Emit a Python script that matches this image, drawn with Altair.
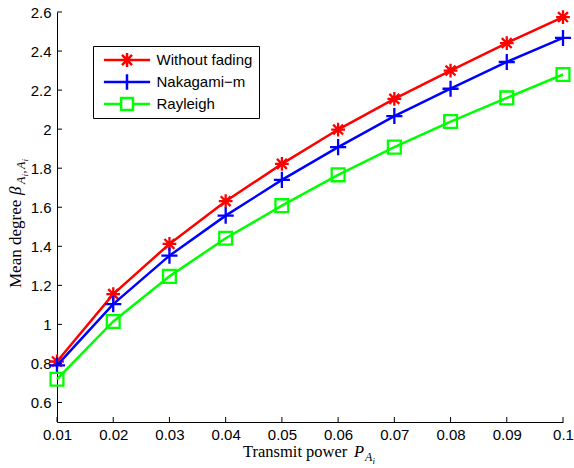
import altair as alt
import pandas as pd

# ---- data ----
x_vals = [0.01, 0.02, 0.03, 0.04, 0.05, 0.06, 0.07, 0.08, 0.09, 0.10]
without_fading = [0.81, 1.155, 1.412, 1.631, 1.822, 1.998, 2.155, 2.300, 2.441, 2.574]
nakagami_m = [0.790, 1.104, 1.352, 1.557, 1.740, 1.908, 2.067, 2.207, 2.344, 2.467]
rayleigh = [0.719, 1.015, 1.246, 1.441, 1.608, 1.766, 1.908, 2.039, 2.160, 2.280]

series_names = ["Without fading", "Nakagami\u2212m", "Rayleigh"]
series_values = [without_fading, nakagami_m, rayleigh]
series_colors = ["#ff0000", "#0000ff", "#00ff00"]

x_ticks = [0.01, 0.02, 0.03, 0.04, 0.05, 0.06, 0.07, 0.08, 0.09, 0.10]
y_ticks = [0.6, 0.8, 1.0, 1.2, 1.4, 1.6, 1.8, 2.0, 2.2, 2.4, 2.6]

# ---- marker shapes (styles) ----
star_path = "M0,-1V1M-1,0H1M-0.72,-0.72L0.72,0.72M-0.72,0.72L0.72,-0.72"
plus_path = "M0,-1V1M-1,0H1"
square_path = "M-1,-1H1V1H-1Z"
marker_paths = [star_path, plus_path, square_path]
marker_sizes = [190, 260, 165]

L = 3.3
legend_paths = [
    f"M-{L},0H{L}M0,-1V1M-1,0H1M-0.72,-0.72L0.72,0.72M-0.72,0.72L0.72,-0.72",
    f"M-{L},0H{L}M0,-1.1V1.1M-1.1,0H1.1",
    f"M-{L},0H-0.85M0.85,0H{L}M-0.85,-0.85H0.85V0.85H-0.85Z",
]

rows = []
for name, vals in zip(series_names, series_values):
    for xv, yv in zip(x_vals, vals):
        rows.append({"series": name, "x": xv, "y": yv})
df = pd.DataFrame(rows)

W, H = 506, 410

x_scale = alt.Scale(domain=[0.01, 0.1], nice=False, zero=False)
y_scale = alt.Scale(domain=[0.5, 2.6], nice=False, zero=False)

x_axis = alt.Axis(values=x_ticks, format=".2~f", title=None, grid=False, ticks=False,
                  tickSize=0, labelPadding=5, labelFont="Liberation Sans", labelFontSize=15,
                  labelColor="black", domainColor="black", domainWidth=1, labelFlush=False)
y_axis = alt.Axis(values=y_ticks, format="~g", title=None, grid=False, ticks=False,
                  tickSize=0, labelPadding=6, labelFont="Liberation Sans", labelFontSize=15,
                  labelColor="black", domainColor="black", domainWidth=1, labelFlush=False)


def X(f):
    return alt.X(f, type="quantitative", scale=x_scale, axis=x_axis)


def Y(f):
    return alt.Y(f, type="quantitative", scale=y_scale, axis=y_axis)


base = alt.Chart(df)

series_layers = []
for name, color, path, sz in zip(series_names, series_colors, marker_paths, marker_sizes):
    sub = base.transform_filter(alt.datum.series == name)
    series_layers.append(
        sub.mark_line(strokeWidth=2.5, color=color, clip=False).encode(x=X("x"), y=Y("y"))
    )
    series_layers.append(
        sub.mark_point(shape=path, filled=False, color=color, size=sz, strokeWidth=2.3,
                       opacity=1, clip=False).encode(x=X("x"), y=Y("y"))
    )

legend = alt.Legend(
    title=None, orient="none", legendX=36, legendY=34, direction="vertical",
    strokeColor="black", fillColor="white", padding=6,
    labelFont="Liberation Sans", labelFontSize=15, labelColor="black",
    symbolSize=196, symbolStrokeWidth=2.5, symbolOffset=19.5, labelOffset=21,
    symbolOpacity=1, rowPadding=6, clipHeight=16, labelLimit=300,
)

# invisible layer that only carries the legend
legend_layer = base.mark_point(filled=False, strokeWidth=2.5, opacity=0).encode(
    x=X("x"), y=Y("y"),
    color=alt.Color("series:N", scale=alt.Scale(domain=series_names, range=series_colors),
                    legend=legend),
    shape=alt.Shape("series:N", scale=alt.Scale(domain=series_names, range=legend_paths),
                    legend=legend),
)

# inward tick marks, positioned by the shared scales
y_tick_layer = alt.Chart(pd.DataFrame({"v": y_ticks})).mark_rule(color="black", strokeWidth=1).encode(
    y=Y("v"), x=alt.value(0), x2=alt.value(5))
x_tick_layer = alt.Chart(pd.DataFrame({"v": x_ticks})).mark_rule(color="black", strokeWidth=1).encode(
    x=X("v"), y=alt.value(H), y2=alt.value(H - 5))

one = pd.DataFrame({"k": [0]})


def txt(s, x, y, size, style="normal", angle=0):
    kw = dict(text=s, font="Liberation Serif", fontSize=size, fontStyle=style,
              align="left", baseline="alphabetic", color="black")
    if angle:
        kw["angle"] = angle
    return alt.Chart(one).mark_text(**kw).encode(x=alt.value(x), y=alt.value(y))


titles = [
    # x axis title: Transmit power P_{A_i}
    txt("Transmit power", 186, 445, 16.5),
    txt("P", 297, 445, 16.5, "italic"),
    txt("A", 308, 449, 12, "italic"),
    txt("i", 315.5, 451.5, 9, "italic"),
    # y axis title: Mean degree beta_{A_i,A_i}
    txt("Mean degree", -36, 276, 17, angle=270),
    txt("\u03b2", -36, 183, 17, "italic", angle=270),
    txt("A", -32, 172, 12, "italic", angle=270),
    txt("i", -29.5, 164.5, 9, "italic", angle=270),
    txt(",", -32, 161.5, 12, "italic", angle=270),
    txt("A", -32, 157, 12, "italic", angle=270),
    txt("i", -29.5, 149.5, 9, "italic", angle=270),
]

chart = alt.layer(
    *series_layers, legend_layer, y_tick_layer, x_tick_layer, *titles
).properties(
    width=W, height=H,
    autosize=alt.AutoSizeParams(type="none"),
    padding={"left": 57, "top": 12, "right": 11, "bottom": 46},
    background="white",
).configure_view(stroke=None)

chart.save("out.html", embed_options={"renderer": "svg", "actions": False})
